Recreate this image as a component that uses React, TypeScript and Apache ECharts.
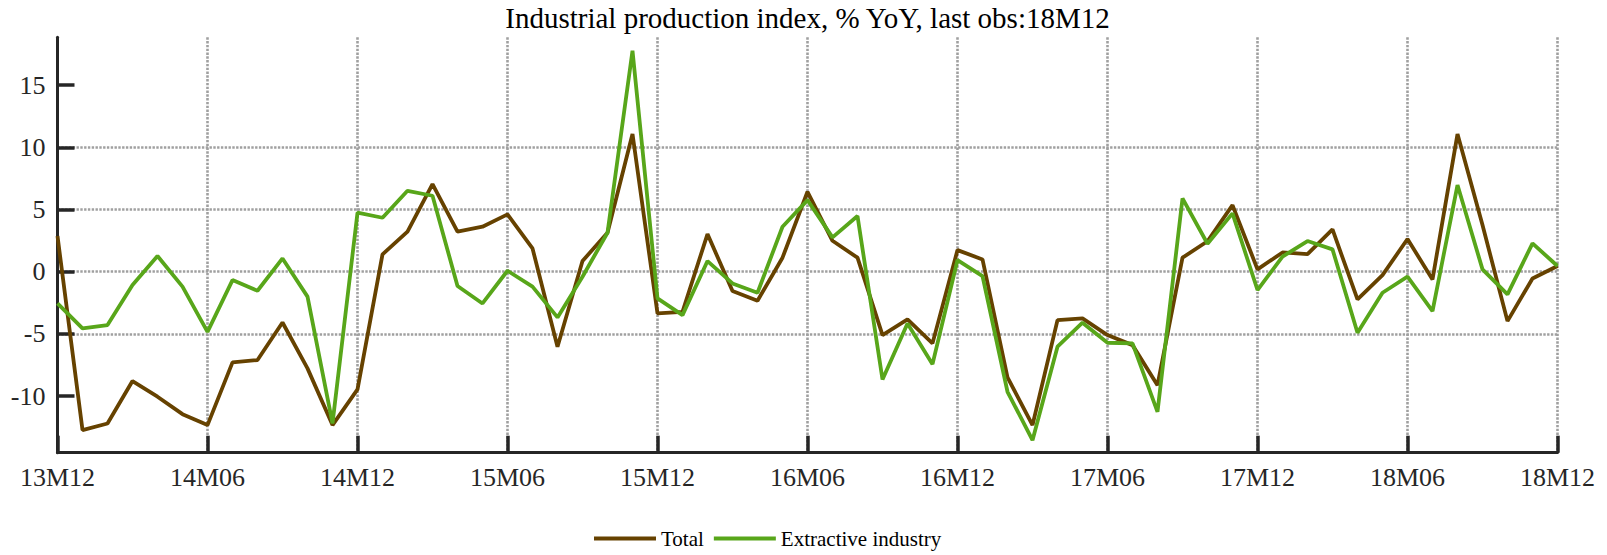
import React, { useEffect, useRef } from "react";
import * as echarts from "echarts";

const titleText = "Industrial production index, % YoY, last obs:18M12";

const categories = [
  "13M12",
  "14M01", "14M02", "14M03", "14M04", "14M05", "14M06", "14M07", "14M08", "14M09", "14M10", "14M11", "14M12",
  "15M01", "15M02", "15M03", "15M04", "15M05", "15M06", "15M07", "15M08", "15M09", "15M10", "15M11", "15M12",
  "16M01", "16M02", "16M03", "16M04", "16M05", "16M06", "16M07", "16M08", "16M09", "16M10", "16M11", "16M12",
  "17M01", "17M02", "17M03", "17M04", "17M05", "17M06", "17M07", "17M08", "17M09", "17M10", "17M11", "17M12",
  "18M01", "18M02", "18M03", "18M04", "18M05", "18M06", "18M07", "18M08", "18M09", "18M10", "18M11", "18M12",
];

const seriesNames = ["Total", "Extractive industry"];

const total = [
  2.87,
  -12.73, -12.2, -8.79, -10.05, -11.45, -12.33, -7.29, -7.1, -4.08, -7.77, -12.33, -9.46,
  1.39, 3.22, 7.05, 3.22, 3.62, 4.61, 1.88, -6.03, 0.86, 3.14, 11.07, -3.35,
  -3.22, 3.03, -1.55, -2.33, 1.13, 6.43, 2.49, 1.13, -5.09, -3.83, -5.76, 1.74,
  0.99, -8.5, -12.33, -3.89, -3.75, -5.09, -5.9, -9.12, 1.13, 2.45, 5.36, 0.19,
  1.55, 1.42, 3.4, -2.23, -0.27, 2.63, -0.62, 11.07, 3.75, -3.97, -0.54, 0.46,
];

const extractive = [
  -2.55,
  -4.56, -4.29, -1.07, 1.26, -1.2, -4.83, -0.67, -1.53, 1.07, -2.0, -12.2, 4.75,
  4.34, 6.51, 6.11, -1.15, -2.55, 0.08, -1.2, -3.67, -0.4, 3.14, 17.77, -2.14,
  -3.49, 0.86, -0.94, -1.69, 3.62, 5.76, 2.76, 4.48, -8.66, -4.16, -7.43, 0.94,
  -0.35, -9.65, -13.54, -6.03, -4.1, -5.71, -5.76, -11.26, 5.9, 2.25, 4.69, -1.47,
  1.21, 2.47, 1.8, -4.91, -1.69, -0.4, -3.16, 6.97, 0.19, -1.82, 2.28, 0.46,
];

const yTicks = [-10, -5, 0, 5, 10, 15];
const yMin = -14.55;
const yMax = 18.85;

const colors = ["#664200", "#58A61A"];
const axisColor = "#262626";
const gridColor = "#a0a0a0";
const fontFamily = "'Liberation Serif', 'Times New Roman', serif";

export default function App() {
  const ref = useRef<HTMLDivElement>(null);

  useEffect(() => {
    document.body.style.margin = "0";
    const chart = echarts.init(ref.current!, null, { renderer: "svg" });
    chart.setOption({
      animation: false,
      backgroundColor: "#ffffff",
      title: {
        text: titleText,
        left: 807.5,
        top: 3,
        padding: 0,
        textAlign: "center",
        textStyle: {
          fontFamily,
          fontSize: 29,
          fontWeight: "normal",
          color: "#000000",
        },
      },
      legend: {
        data: seriesNames,
        left: 594,
        top: 528,
        padding: 0,
        icon: "rect",
        itemWidth: 62,
        itemHeight: 4,
        itemGap: 10,
        textStyle: {
          fontFamily,
          fontSize: 21,
          color: "#000000",
        },
      },
      grid: {
        left: 57.5,
        right: 49.5,
        top: 37.3,
        bottom: 102.3,
        containLabel: false,
        outerBoundsMode: "none",
      },
      xAxis: {
        type: "category",
        data: categories,
        boundaryGap: false,
        axisLine: {
          show: true,
          onZero: false,
          lineStyle: { color: axisColor, width: 3 },
        },
        axisTick: {
          show: true,
          inside: true,
          length: 17,
          interval: 5,
          lineStyle: { color: axisColor, width: 3.5 },
        },
        axisLabel: {
          interval: 5,
          margin: 12,
          fontFamily,
          fontSize: 26,
          color: axisColor,
        },
        splitLine: {
          show: true,
          interval: 5,
          lineStyle: { color: gridColor, width: 2.6, type: [2.4, 1.4] },
        },
      },
      yAxis: {
        type: "value",
        min: yMin,
        max: yMax,
        axisLine: {
          show: true,
          lineStyle: { color: axisColor, width: 3 },
        },
        axisTick: {
          show: true,
          inside: true,
          length: 17,
          customValues: yTicks,
          lineStyle: { color: axisColor, width: 3.5 },
        },
        axisLabel: {
          customValues: yTicks,
          margin: 12,
          fontFamily,
          fontSize: 26,
          color: axisColor,
        },
        splitLine: {
          show: true,
          showMinLine: false,
          showMaxLine: false,
          lineStyle: { color: gridColor, width: 2.6, type: [2.4, 1.4] },
        },
      },
      series: [
        {
          name: seriesNames[0],
          type: "line",
          data: total,
          symbol: "none",
          color: colors[0],
          lineStyle: { color: colors[0], width: 3.8 },
          itemStyle: { color: colors[0] },
        },
        {
          name: seriesNames[1],
          type: "line",
          data: extractive,
          symbol: "none",
          color: colors[1],
          lineStyle: { color: colors[1], width: 3.8 },
          itemStyle: { color: colors[1] },
        },
      ],
    });
    return () => chart.dispose();
  }, []);

  return <div ref={ref} style={{ width: 1607, height: 555 }} />;
}
